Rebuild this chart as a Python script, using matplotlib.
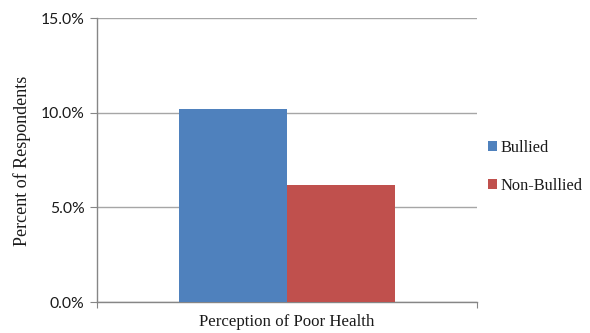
import matplotlib
matplotlib.use("Agg")
import matplotlib.pyplot as plt
from matplotlib.ticker import FuncFormatter
from matplotlib.patches import Patch

categories = ["Perception of Poor Health"]
series_names = ["Bullied", "Non-Bullied"]
bullied = [10.17]
non_bullied = [6.16]
yticks = [0, 5, 10, 15]

colors = ["#4F81BD", "#C0504D"]

fig = plt.figure(figsize=(5.9, 3.33), dpi=100)
ax = fig.add_axes([97/590, 1-302/333, 380/590, 284/333])

w = 0.285
ax.bar([-w/2], bullied, width=w, color=colors[0], zorder=3)
ax.bar([w/2], non_bullied, width=w, color=colors[1], zorder=3)

ax.set_xlim(-0.5, 0.5)
ax.set_ylim(0, 15)
ax.set_yticks(yticks)
ax.yaxis.set_major_formatter(FuncFormatter(lambda v, p: f"{v:.1f}%"))
ax.yaxis.grid(True, color="#A6A6A6", linewidth=1.0, zorder=0)
ax.set_xticks([-0.5, 0.5])
ax.set_xticklabels(["", ""])
ax.tick_params(axis="x", length=4, color="#868686", direction="out")
ax.tick_params(axis="y", length=5, color="#868686", direction="out", pad=4)
for lbl in ax.get_yticklabels():
    lbl.set_fontfamily(["Lato", "DejaVu Sans"])
    lbl.set_fontsize(11.3)
    lbl.set_color("#1a1a1a")

for s in ["top", "right"]:
    ax.spines[s].set_visible(False)
for s in ["left", "bottom"]:
    ax.spines[s].set_color("#868686")
    ax.spines[s].set_linewidth(1.0)

serif = ["Liberation Serif", "DejaVu Serif"]
fig.text(287/590, 1-322/333, categories[0], ha="center", va="center",
         fontfamily=serif, fontsize=12.2, color="#1a1a1a")
fig.text(22/590, 1-161/333, "Percent of Respondents", ha="center", va="center",
         rotation=90, fontfamily=serif, fontsize=13, color="#1a1a1a")

handles = [Patch(facecolor=c) for c in colors]
leg = fig.legend(handles, series_names, loc="center left",
                 bbox_to_anchor=(473/590, 1-167/333), frameon=False,
                 prop={"family": serif, "size": 11.8},
                 handlelength=0.55, handleheight=0.55, handletextpad=0.2,
                 labelspacing=1.35)
for t in leg.get_texts():
    t.set_color("#1a1a1a")

fig.savefig("out.png", dpi=100)
